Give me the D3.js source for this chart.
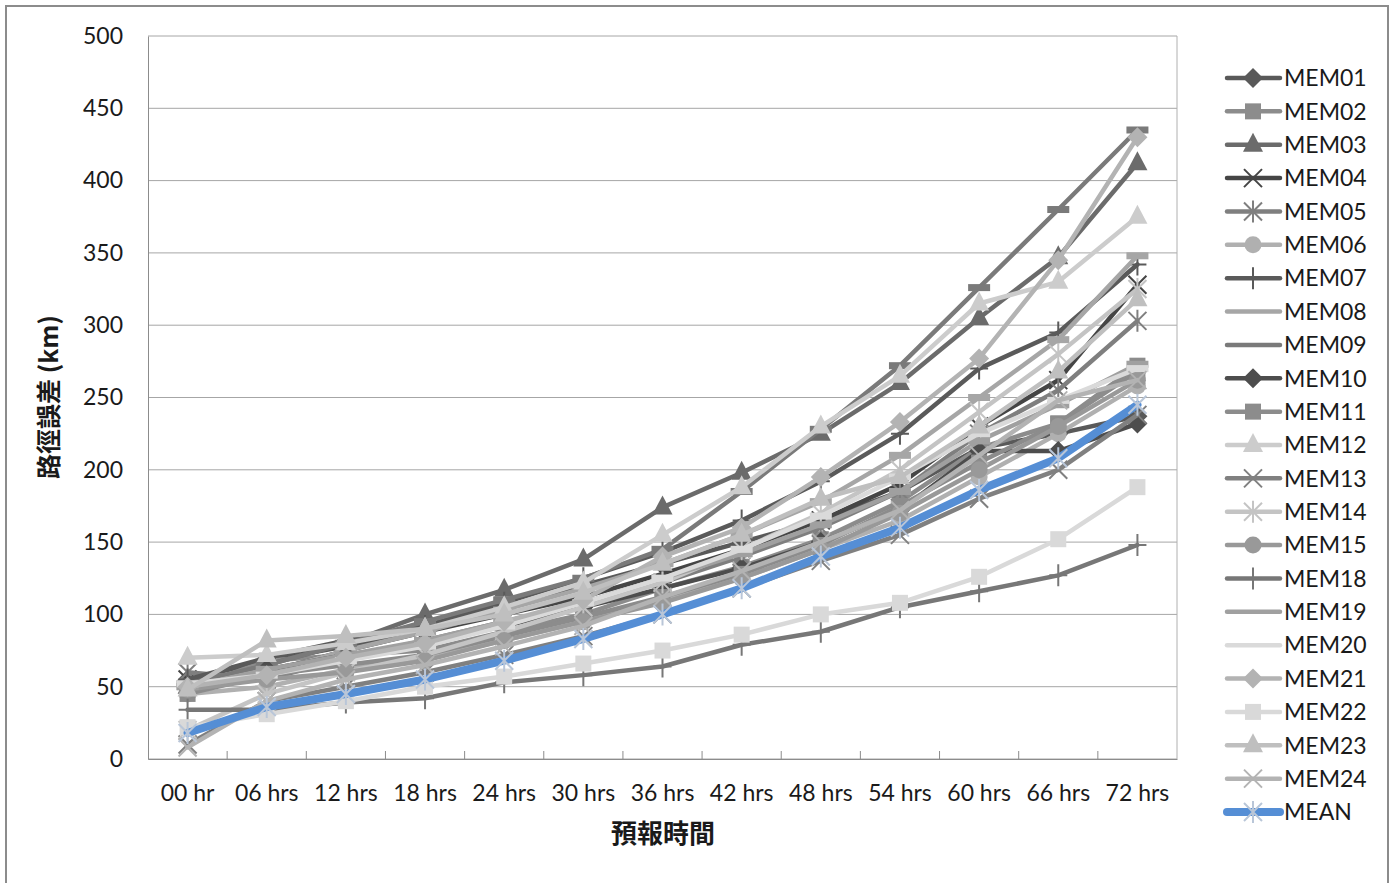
<!DOCTYPE html>
<html>
<head>
<meta charset="utf-8">
<script src="https://cdn.jsdelivr.net/npm/d3@7"></script>
<style>
  body { margin: 0; background: #fff; }
  text { font-family: Lato, "Open Sans", sans-serif; fill: #1a1a1a; }
</style>
</head>
<body>
<div class="canvas"></div>
<script>
// categories and tick labels
const hours = ["00 hr", "06 hrs", "12 hrs", "18 hrs", "24 hrs", "30 hrs", "36 hrs",
  "42 hrs", "48 hrs", "54 hrs", "60 hrs", "66 hrs", "72 hrs"]
const yTicks = [0, 50, 100, 150, 200, 250, 300, 350, 400, 450, 500]

// track error (km) per member
const mem01 = [55, 68, 78, 90, 105, 120, 135, 150, 165, 185, 215, 225, 237]
const mem02 = [48, 68, 72, 75, 88, 100, 118, 133, 152, 178, 215, 232, 272]
const mem03 = [50, 65, 80, 100, 117, 138, 174, 198, 225, 260, 305, 347, 412]
const mem04 = [55, 60, 75, 88, 100, 112, 128, 145, 165, 190, 230, 262, 328]
const mem05 = [60, 55, 70, 82, 95, 108, 122, 140, 160, 185, 225, 255, 303]
const mem06 = [45, 50, 62, 70, 82, 95, 110, 125, 145, 165, 195, 225, 258]
const mem07 = [55, 70, 82, 92, 108, 125, 143, 165, 192, 225, 270, 295, 342]
const mem08 = [50, 60, 75, 88, 103, 118, 135, 155, 178, 210, 250, 290, 348]
const mem09 = [52, 65, 80, 95, 110, 125, 145, 185, 228, 272, 326, 380, 435]
const mem10 = [50, 62, 72, 80, 92, 105, 118, 132, 150, 172, 213, 213, 232]
const mem11 = [45, 58, 65, 72, 85, 98, 112, 128, 148, 175, 205, 232, 268]
const mem12 = [70, 72, 80, 90, 105, 122, 155, 188, 230, 265, 315, 330, 375]
const mem13 = [10, 40, 50, 60, 72, 85, 100, 118, 137, 155, 180, 200, 238]
const mem14 = [20, 45, 60, 72, 88, 105, 122, 145, 170, 200, 240, 280, 325]
const mem15 = [48, 55, 60, 68, 82, 95, 108, 125, 145, 170, 200, 230, 262]
const mem18 = [34, 34, 39, 42, 53, 58, 64, 79, 88, 105, 116, 127, 148]
const mem19 = [50, 62, 72, 82, 95, 108, 125, 142, 162, 185, 220, 245, 273]
const mem20 = [52, 58, 68, 78, 92, 108, 125, 145, 168, 195, 225, 248, 270]
const mem21 = [50, 58, 70, 80, 95, 110, 140, 160, 195, 233, 277, 345, 430]
const mem22 = [22, 31, 40, 50, 57, 66, 75, 86, 100, 108, 126, 152, 188]
const mem23 = [48, 82, 85, 90, 100, 115, 135, 155, 180, 195, 230, 268, 318]
const mem24 = [8, 40, 55, 65, 78, 92, 112, 130, 150, 172, 210, 248, 262]
const mean = [18, 36, 45, 55, 68, 83, 100, 118, 140, 160, 186, 208, 245]

// name, values, marker, colour
const series = [
  ["MEM01", mem01, "diamond", "#595959"],
  ["MEM02", mem02, "square", "#8c8c8c"],
  ["MEM03", mem03, "triangle", "#6b6b6b"],
  ["MEM04", mem04, "x", "#454545"],
  ["MEM05", mem05, "star", "#7f7f7f"],
  ["MEM06", mem06, "circle", "#b0b0b0"],
  ["MEM07", mem07, "plus", "#5a5a5a"],
  ["MEM08", mem08, "dash", "#a6a6a6"],
  ["MEM09", mem09, "dash", "#7a7a7a"],
  ["MEM10", mem10, "diamond", "#4d4d4d"],
  ["MEM11", mem11, "square", "#8c8c8c"],
  ["MEM12", mem12, "triangle", "#cccccc"],
  ["MEM13", mem13, "x", "#808080"],
  ["MEM14", mem14, "star", "#c4c4c4"],
  ["MEM15", mem15, "circle", "#999999"],
  ["MEM18", mem18, "plus", "#777777"],
  ["MEM19", mem19, "dash", "#a0a0a0"],
  ["MEM20", mem20, "dash", "#dadada"],
  ["MEM21", mem21, "diamond", "#b3b3b3"],
  ["MEM22", mem22, "square", "#d9d9d9"],
  ["MEM23", mem23, "triangle", "#bfbfbf"],
  ["MEM24", mem24, "x", "#b3b3b3"],
  ["MEAN", mean, "star", "#558ed5"]
]

const svg = d3.select(".canvas").append("svg")
  .attr("width", 1395).attr("height", 883)

// outer chart frame
svg.append("rect")
  .attr("x", 6).attr("y", 6).attr("width", 1382).attr("height", 900)
  .attr("fill", "#fff").attr("stroke", "#8c8c8c").attr("stroke-width", 2)

const x = d3.scaleBand().domain(hours).range([148, 1177])
const y = d3.scaleLinear().domain([0, 500]).range([759, 36])
const cx = d => x(d) + x.bandwidth() / 2

// grid lines
svg.append("g").selectAll("line")
  .data(yTicks)
  .enter()
  .append("line")
  .attr("x1", 148).attr("x2", 1177)
  .attr("y1", d => y(d)).attr("y2", d => y(d))
  .attr("stroke", "#a6a6a6").attr("stroke-width", 1)
svg.append("line")
  .attr("x1", 1177).attr("x2", 1177).attr("y1", 36).attr("y2", 759)
  .attr("stroke", "#b0b0b0")

// y axis
const yAxis = svg.append("g")
  .attr("transform", "translate(148,0)")
  .call(d3.axisLeft(y).tickValues(yTicks).tickSize(0).tickPadding(25))
yAxis.select(".domain").attr("stroke", "#8c8c8c")
yAxis.selectAll("text").attr("font-size", 23).attr("font-family", "Lato").attr("fill", "#1a1a1a")

// x axis, ticks between categories pointing inward
const xAxis = svg.append("g")
  .attr("transform", "translate(0,759)")
  .call(d3.axisBottom(x).tickSize(0).tickPadding(26))
xAxis.select(".domain").attr("stroke", "#8c8c8c")
xAxis.selectAll("text").attr("font-size", 23).attr("font-family", "Lato").attr("fill", "#1a1a1a")
xAxis.selectAll(".sep")
  .data(hours.slice(1))
  .enter()
  .append("line")
  .attr("x1", d => x(d)).attr("x2", d => x(d))
  .attr("y1", 0).attr("y2", -8)
  .attr("stroke", "#8c8c8c")

// axis titles
svg.append("text")
  .attr("transform", "translate(58,397) rotate(-90)")
  .attr("text-anchor", "middle")
  .attr("font-size", 25).attr("font-weight", "bold")
  .style("font-family", "'Noto Sans CJK TC', sans-serif")
  .text("路徑誤差 (km)")
svg.append("text")
  .attr("x", 663).attr("y", 843)
  .attr("text-anchor", "middle")
  .attr("font-size", 26).attr("font-weight", "bold")
  .style("font-family", "'Noto Sans CJK TC', sans-serif")
  .text("預報時間")

function marker(g, type, color, isMean) {
  const mk = isMean ? "#b9c6d8" : color
  if (type === "diamond") {
    g.append("path").attr("d", "M0,-10L10,0L0,10L-10,0Z").attr("fill", color)
  } else if (type === "square") {
    g.append("rect").attr("x", -8).attr("y", -8).attr("width", 16).attr("height", 16).attr("fill", color)
  } else if (type === "triangle") {
    g.append("path").attr("d", "M0,-12L10,7L-10,7Z").attr("fill", color)
  } else if (type === "circle") {
    g.append("circle").attr("r", 8.5).attr("fill", color)
  } else if (type === "dash") {
    g.append("rect").attr("x", -11).attr("y", -3.5).attr("width", 22).attr("height", 7).attr("fill", color)
  } else {
    let d = ""
    if (type === "x" || type === "star") d += "M-9,-9L9,9M-9,9L9,-9"
    if (type === "star") d += "M0,-11L0,11"
    if (type === "plus") d += "M0,-11L0,11M-9,0L9,0"
    g.append("path").attr("d", d).attr("fill", "none").attr("stroke", mk).attr("stroke-width", 2)
  }
}

const line = d3.line().x((d, i) => cx(hours[i])).y(d => y(d))

series.forEach(([name, vals, type, color]) => {
  const isMean = name === "MEAN"
  const g = svg.append("g")
  g.append("path")
    .attr("d", line(vals))
    .attr("fill", "none")
    .attr("stroke", color)
    .attr("stroke-width", isMean ? 8 : 4.5)
    .attr("stroke-linejoin", "round")
    .attr("stroke-linecap", "round")
  g.selectAll("g")
    .data(vals)
    .enter()
    .append("g")
    .attr("transform", (d, i) => `translate(${cx(hours[i])},${y(d)})`)
    .each(function() { marker(d3.select(this), type, color, isMean) })
})

// legend
const legend = svg.append("g")
const ly = d3.scalePoint().domain(series.map(s => s[0])).range([78, 812])
series.forEach(([name, vals, type, color]) => {
  const isMean = name === "MEAN"
  const g = legend.append("g").attr("transform", `translate(0,${ly(name)})`)
  g.append("line")
    .attr("x1", 1227).attr("x2", 1280)
    .attr("stroke", color).attr("stroke-width", isMean ? 8 : 4.5)
    .attr("stroke-linecap", "round")
  const m = g.append("g").attr("transform", "translate(1253,0)")
  if (type !== "dash") marker(m, type, color, isMean)
  g.append("text")
    .attr("x", 1284).attr("y", 0).attr("dy", "0.36em")
    .attr("font-size", 23)
    .text(name)
})
</script>
</body>
</html>
